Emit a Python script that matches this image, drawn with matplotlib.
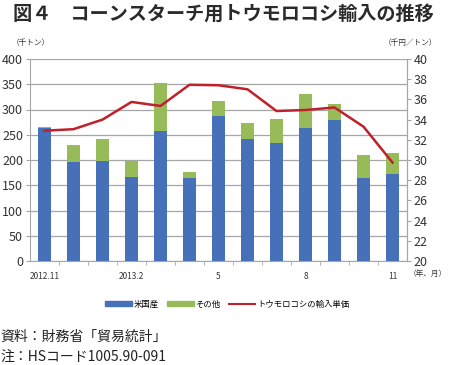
import matplotlib
matplotlib.use("Agg")
import matplotlib.pyplot as plt
from matplotlib.patches import Patch
from matplotlib.lines import Line2D
import numpy as np

plt.rcParams['font.family'] = ['Noto Sans CJK JP', 'DejaVu Sans']

# data
months = ["2012.11", "12", "2013.1", "2013.2", "3", "4", "5", "6", "7", "8", "9", "10", "11"]
tick_labels = ["2012.11", "", "", "2013.2", "", "", "5", "", "", "8", "", "", "11"]
us = [263, 196, 198, 167, 258, 164, 288, 241, 233, 263, 279, 164, 172]
total = [265, 230, 241, 198, 352, 176, 317, 273, 281, 330, 310, 209, 214]
price = [32.9, 33.05, 34.0, 35.75, 35.35, 37.45, 37.4, 37.0, 34.85, 34.95, 35.2, 33.3, 29.75]
other = [t - u for t, u in zip(total, us)]

blue = "#4670b8"
green = "#98bb5a"
red = "#c0202a"
grid_c = "#a6a6a6"

fig = plt.figure(figsize=(4.5, 3.65), dpi=100)
ax = fig.add_axes([30 / 450, 1 - 261 / 365, 377 / 450, 202 / 365])
x = np.arange(len(months))

ax.bar(x, us, width=0.42, color=blue, zorder=3)
ax.bar(x, other, bottom=us, width=0.42, color=green, zorder=3)
ax.set_xlim(-0.5, len(months) - 0.5)
ax.set_ylim(0, 400)
ax.set_yticks(range(0, 401, 50))
ax.yaxis.grid(True, color=grid_c, linewidth=0.9, zorder=0)
ax.set_axisbelow(True)
ax.set_xticks(x)
ax.set_xticklabels(tick_labels, fontsize=6, color="#333333")
ax.tick_params(axis="x", length=0, pad=8)
ax.set_xticks(x[:-1] + 0.5, minor=True)
ax.tick_params(axis="x", which="minor", length=3, color=grid_c, direction="out")
ax.tick_params(axis="y", length=3, color=grid_c, labelsize=9, pad=2, labelcolor="#333333")
ax.spines["top"].set_visible(False)
for s in ["left", "bottom", "right"]:
    ax.spines[s].set_color(grid_c)

ax2 = ax.twinx()
ax2.plot(x, price, color=red, linewidth=1.8, zorder=5)
ax2.set_ylim(20, 40)
ax2.set_yticks(range(20, 41, 2))
ax2.tick_params(axis="y", length=3, color=grid_c, labelsize=9, pad=2, labelcolor="#333333")
for s in ["top", "left", "bottom"]:
    ax2.spines[s].set_visible(False)
ax2.spines["right"].set_color(grid_c)

fig.text(13 / 450, 1 - 14 / 365, "図４　コーンスターチ用トウモロコシ輸入の推移",
         fontsize=13.8, fontweight="bold", va="center", ha="left", color="#2a2a2a")
fig.text(12 / 450, 1 - 43 / 365, "（千トン）", fontsize=5.5, va="center", ha="left", color="#333333")
fig.text(437 / 450, 1 - 43 / 365, "（千円／トン）", fontsize=5.5, va="center", ha="right", color="#333333")
fig.text(428 / 450, 1 - 274 / 365, "（年、月）", fontsize=5.5, va="center", ha="center", color="#333333")

handles = [Patch(color=blue), Patch(color=green), Line2D([], [], color=red, linewidth=1.5)]
fig.legend(handles, ["米国産", "その他", "トウモロコシの輸入単価"], loc="center",
           bbox_to_anchor=(0.505, 1 - 304 / 365), ncol=3, frameon=False, fontsize=6,
           handlelength=3.2, handleheight=0.5, handletextpad=0.2, columnspacing=1.0)

fig.text(0.0, 1 - 337 / 365, "資料：財務省「貿易統計」", fontsize=10, va="center", ha="left", color="#222222")
fig.text(0.0, 1 - 357 / 365, "注：HSコード1005.90-091", fontsize=10, va="center", ha="left", color="#222222")

fig.savefig("out.png", dpi=100)
